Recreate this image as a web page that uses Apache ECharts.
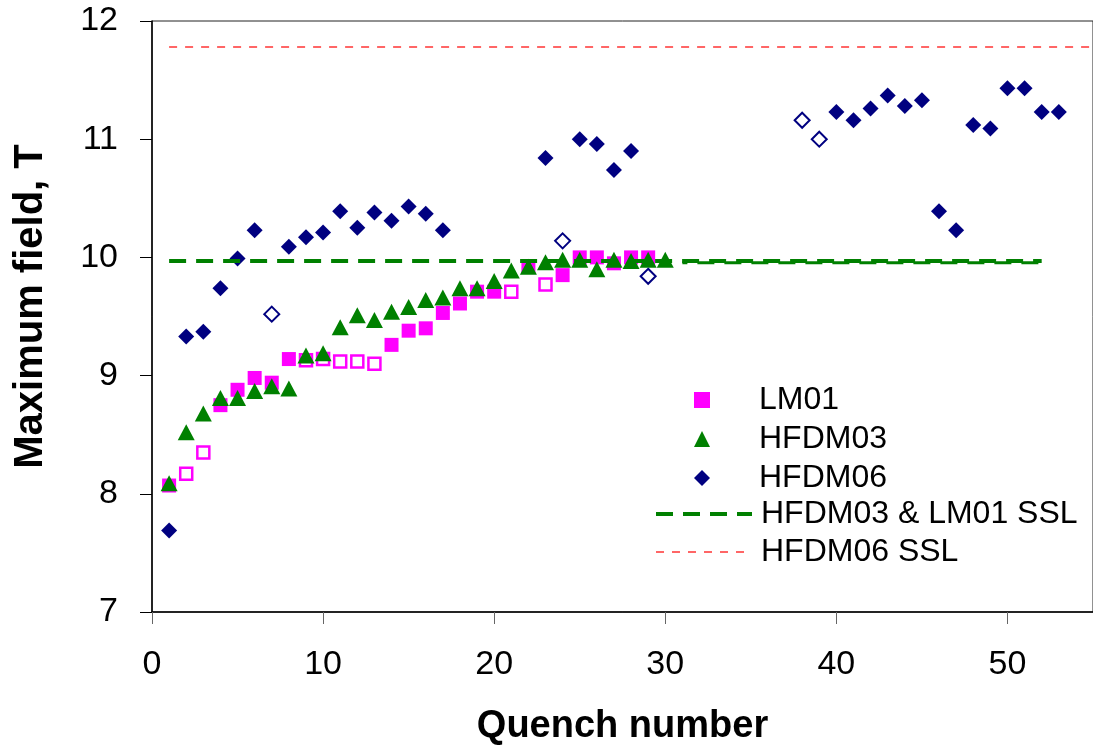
<!DOCTYPE html>
<html>
<head>
<meta charset="utf-8">
<title>Maximum field vs quench number</title>
<script src="https://cdn.jsdelivr.net/npm/echarts@6/dist/echarts.min.js"></script>
<style>
  html, body { margin: 0; padding: 0; background: #fff; overflow: hidden; }
  #chart { width: 1093px; height: 751px; }
</style>
</head>
<body>
<div id="chart"></div>
<script>
// Axis ticks
const yTicks = [7, 8, 9, 10, 11, 12];
const xTickStep = 10;

// LM01: solid and hollow markers
const lm01Q = [1, 4, 5, 6, 7, 8, 14, 15, 16, 17, 18, 19, 20, 22, 24, 25, 26, 27, 28, 29];
const lm01B = [8.07, 8.75, 8.88, 8.98, 8.94, 9.14, 9.26, 9.38, 9.40, 9.53, 9.61, 9.71, 9.71, 9.92, 9.85, 10.00, 10.00, 9.95, 10.00, 10.00];
const lm01OpenQ = [2, 3, 9, 10, 11, 12, 13, 21, 23];
const lm01OpenB = [8.17, 8.35, 9.13, 9.14, 9.12, 9.12, 9.10, 9.71, 9.77];

// HFDM03
const hfdm03Q = [1, 2, 3, 4, 5, 6, 7, 8, 9, 10, 11, 12, 13, 14, 15, 16, 17, 18, 19, 20, 21, 22, 23, 24, 25, 26, 27, 28, 29, 30];
const hfdm03B = [8.09, 8.52, 8.68, 8.81, 8.81, 8.87, 8.91, 8.89, 9.17, 9.19, 9.41, 9.51, 9.47, 9.54, 9.58, 9.64, 9.66, 9.74, 9.74, 9.80, 9.89, 9.92, 9.96, 9.98, 9.98, 9.90, 9.98, 9.97, 9.98, 9.98];

// HFDM06: solid and hollow markers
const hfdm06Q = [1, 2, 3, 4, 5, 6, 8, 9, 10, 11, 12, 13, 14, 15, 16, 17, 23, 25, 26, 27, 28, 40, 41, 42, 43, 44, 45, 46, 47, 48, 49, 50, 51, 52, 53];
const hfdm06B = [7.69, 9.33, 9.37, 9.74, 9.99, 10.23, 10.09, 10.17, 10.21, 10.39, 10.25, 10.38, 10.31, 10.43, 10.37, 10.23, 10.84, 11.00, 10.96, 10.74, 10.90, 11.23, 11.16, 11.26, 11.37, 11.28, 11.33, 10.39, 10.23, 11.12, 11.09, 11.43, 11.43, 11.23, 11.23];
const hfdm06OpenQ = [7, 24, 29, 38, 39];
const hfdm06OpenB = [9.52, 10.14, 9.84, 11.16, 11.00];

// Short-sample limits
const sslLowQ = [1, 52];
const sslLowB = [9.97, 9.97];
const sslLowTailQ = [31, 52];
const sslLowTailB = [9.955, 9.955];
const sslHighQ = [1, 55];
const sslHighB = [11.78, 11.78];

const pairs = (xs, ys) => xs.map((x, i) => [x, ys[i]]);

const FONT = '"Liberation Sans", Arial, sans-serif';
const MAGENTA = '#ff00ff';
const GREEN = '#008000';
const NAVY = '#000080';
const SALMON = '#ff6666';

const chart = echarts.init(document.getElementById('chart'), null, { renderer: 'canvas' });

chart.setOption({
  animation: false,
  backgroundColor: '#ffffff',
  grid: {
    left: 152, top: 21, bottom: 138, right: -13,
    show: true, borderColor: '#222', borderWidth: 1
  },
  xAxis: {
    type: 'value',
    min: 0, max: 55, interval: xTickStep,
    name: 'Quench number',
    nameLocation: 'middle',
    nameGap: 96,
    nameTextStyle: { fontFamily: FONT, fontSize: 38, fontWeight: 'bold', color: '#000' },
    axisLine: { show: true, onZero: false, lineStyle: { color: '#000', width: 1.5 } },
    axisTick: { show: true, inside: false, length: 12, lineStyle: { color: '#666', width: 1 } },
    axisLabel: { margin: 36, fontFamily: FONT, fontSize: 34, color: '#000', showMaxLabel: false },
    splitLine: { show: false }
  },
  yAxis: {
    type: 'value',
    min: yTicks[0], max: yTicks[yTicks.length - 1], interval: 1,
    name: 'Maximum field, T',
    nameLocation: 'middle',
    nameGap: 101,
    nameTextStyle: { fontFamily: FONT, fontSize: 40, fontWeight: 'bold', color: '#000', padding: [0, 0, 0, 20] },
    axisLine: { show: true, onZero: false, lineStyle: { color: '#000', width: 1.5 } },
    axisTick: { show: true, inside: false, length: 12, lineStyle: { color: '#000', width: 1 } },
    axisLabel: { margin: 34, fontFamily: FONT, fontSize: 34, color: '#000' },
    splitLine: { show: false }
  },
  legend: [
    {
      data: ['LM01', 'HFDM03', 'HFDM06'],
      orient: 'vertical',
      left: 694, top: 384, padding: 0,
      itemWidth: 16, itemHeight: 16, itemGap: 7,
      textStyle: { fontFamily: FONT, fontSize: 32, color: '#000', lineHeight: 32, padding: [0, 0, 0, 44] }
    },
    {
      data: [
        { name: 'HFDM03 & LM01 SSL', lineStyle: { width: 4 } },
        { name: 'HFDM06 SSL', lineStyle: { width: 2 } }
      ],
      orient: 'vertical',
      left: 654, top: 498, padding: 0,
      itemWidth: 96, itemHeight: 8, itemGap: 6,
      itemStyle: { opacity: 0 },
      textStyle: { fontFamily: FONT, fontSize: 32, color: '#000', lineHeight: 32, padding: [0, 0, 0, 4] }
    }
  ],
  series: [
    {
      name: 'HFDM06 SSL', type: 'line', symbol: 'none', silent: true,
      data: pairs(sslHighQ, sslHighB),
      lineStyle: { color: SALMON, width: 2, type: [8, 8] },
      itemStyle: { color: SALMON }
    },
    {
      name: 'HFDM03 & LM01 SSL', type: 'line', symbol: 'none', silent: true,
      data: pairs(sslLowQ, sslLowB),
      lineStyle: { color: GREEN, width: 4, type: [17, 10] },
      itemStyle: { color: GREEN }
    },
    {
      name: 'SSL tail', type: 'line', symbol: 'none', silent: true,
      data: pairs(sslLowTailQ, sslLowTailB),
      lineStyle: { color: GREEN, width: 3, type: [17, 10], dashOffset: 12 },
      itemStyle: { color: GREEN }
    },
    {
      name: 'LM01', type: 'scatter', symbol: 'rect', symbolSize: 14,
      data: pairs(lm01Q, lm01B),
      itemStyle: { color: MAGENTA, opacity: 1 }
    },
    {
      name: 'LM01 hollow', type: 'scatter', symbol: 'rect', symbolSize: 12,
      data: pairs(lm01OpenQ, lm01OpenB),
      itemStyle: { color: '#ffffff', borderColor: MAGENTA, borderWidth: 2.5, opacity: 1 }
    },
    {
      name: 'HFDM03', type: 'scatter', symbol: 'triangle', symbolSize: [17, 16],
      data: pairs(hfdm03Q, hfdm03B),
      itemStyle: { color: GREEN, opacity: 1 }
    },
    {
      name: 'HFDM06', type: 'scatter', symbol: 'diamond', symbolSize: 16,
      data: pairs(hfdm06Q, hfdm06B),
      itemStyle: { color: NAVY, opacity: 1 }
    },
    {
      name: 'HFDM06 hollow', type: 'scatter', symbol: 'diamond', symbolSize: 15,
      data: pairs(hfdm06OpenQ, hfdm06OpenB),
      itemStyle: { color: '#ffffff', borderColor: NAVY, borderWidth: 2, opacity: 1 }
    }
  ]
});
</script>
</body>
</html>
